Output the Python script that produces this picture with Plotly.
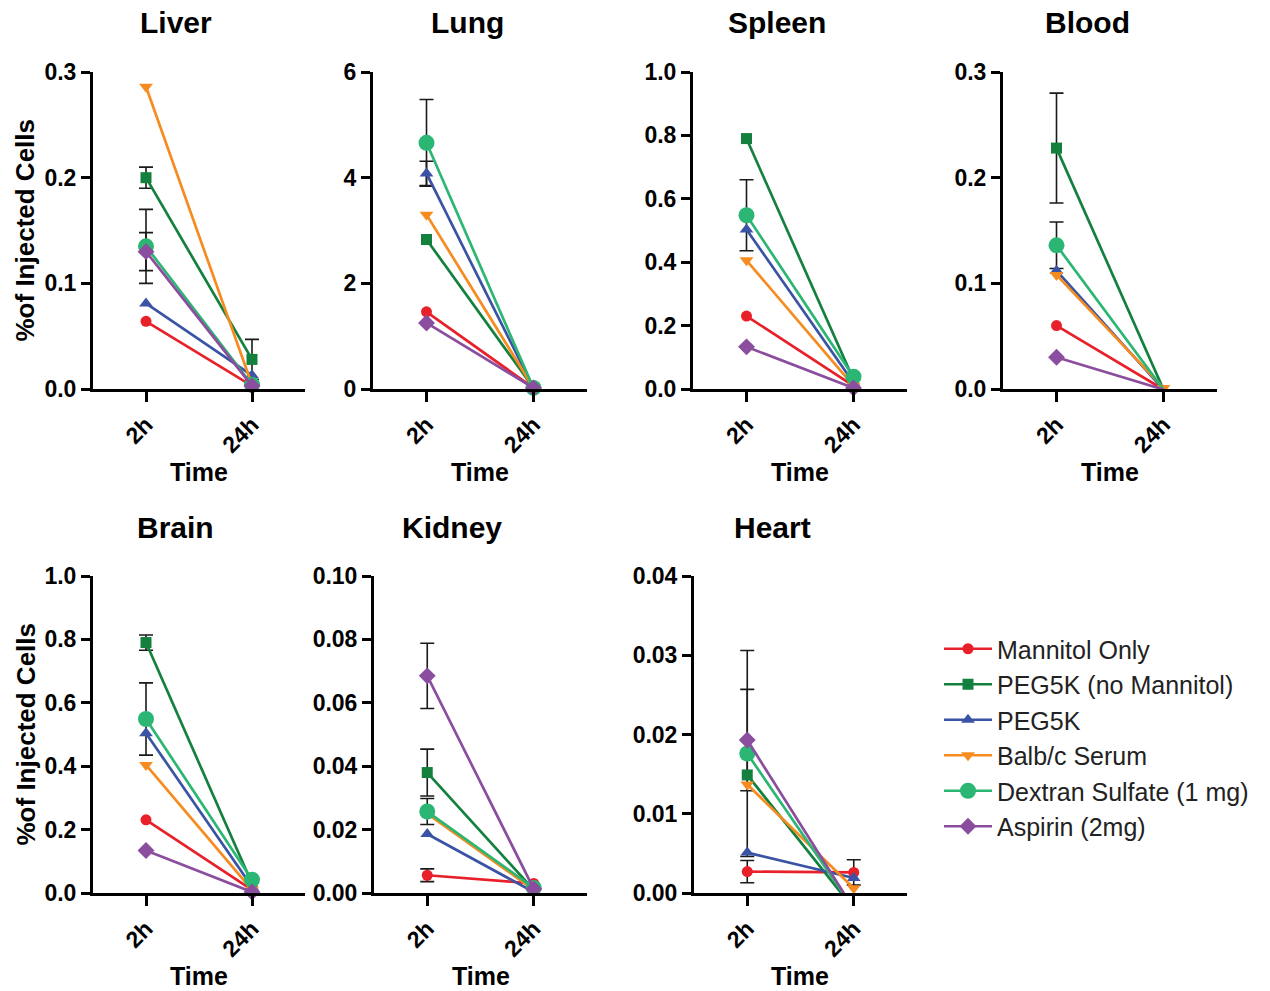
import plotly.graph_objects as go

# ---------------- data ----------------
series_names = ["Mannitol Only", "PEG5K (no Mannitol)", "PEG5K", "Balb/c Serum",
                "Dextran Sulfate (1 mg)", "Aspirin (2mg)"]
time_labels = ["2h", "24h"]
organs = ["Liver", "Lung", "Spleen", "Blood", "Brain", "Kidney", "Heart"]

# values per series (order as series_names)
liver_2h = [0.064, 0.200, 0.081, 0.286, 0.135, 0.130]
liver_24h = [0.003, 0.028, 0.013, 0.004, 0.004, 0.003]
liver_err_2h = [None, 0.010, None, None, 0.035, 0.018]
liver_err_24h = [None, 0.019, None, None, None, None]

lung_2h = [1.46, 2.83, 4.08, 3.30, 4.66, 1.25]
lung_24h = [0.02, 0.02, 0.02, 0.02, 0.02, 0.02]
lung_err_2h = [None, None, 0.23, None, 0.82, None]
lung_err_24h = [None, None, None, None, None, None]

spleen_2h = [0.230, 0.790, 0.503, 0.406, 0.548, 0.133]
spleen_24h = [0.010, 0.030, 0.020, 0.010, 0.039, 0.003]
spleen_err_2h = [None, None, None, None, 0.112, None]
spleen_err_24h = [None, None, None, None, None, None]

blood_2h = [0.060, 0.228, 0.112, 0.108, 0.136, 0.030]
blood_24h = [-0.0005, -0.0005, -0.0005, 0.001, -0.0005, -0.0005]
blood_err_2h = [None, 0.052, None, None, 0.022, None]
blood_err_24h = [None, None, None, None, None, None]

brain_2h = [0.231, 0.790, 0.504, 0.404, 0.549, 0.134]
brain_24h = [0.010, 0.030, 0.020, 0.010, 0.042, 0.003]
brain_err_2h = [None, 0.024, None, None, 0.114, None]
brain_err_24h = [None, None, None, None, None, None]

kidney_2h = [0.0056, 0.038, 0.0186, 0.025, 0.0257, 0.0685]
kidney_24h = [0.003, 0.001, 0.0003, 0.001, 0.0016, 0.0013]
kidney_err_2h = [0.002, 0.0074, None, None, 0.0041, 0.0103]
kidney_err_24h = [None, None, None, None, None, None]

heart_2h = [0.0027, 0.0149, 0.0051, 0.0137, 0.0176, 0.0193]
heart_24h = [0.0026, -0.002, 0.0019, 0.0006, -0.002, -0.002]
heart_err_2h = [0.0014, None, None, None, 0.013, 0.0064]
heart_err_24h = [0.0016, None, None, None, None, None]

y_max = [0.3, 6, 1.0, 0.3, 1.0, 0.10, 0.04]
y_dtick = [0.1, 2, 0.2, 0.1, 0.2, 0.02, 0.01]
y_format = [".1f", "d", ".1f", ".1f", ".1f", ".2f", ".2f"]

data_2h = [liver_2h, lung_2h, spleen_2h, blood_2h, brain_2h, kidney_2h, heart_2h]
data_24h = [liver_24h, lung_24h, spleen_24h, blood_24h, brain_24h, kidney_24h, heart_24h]
err_2h = [liver_err_2h, lung_err_2h, spleen_err_2h, blood_err_2h, brain_err_2h,
          kidney_err_2h, heart_err_2h]
err_24h = [liver_err_24h, lung_err_24h, spleen_err_24h, blood_err_24h, brain_err_24h,
           kidney_err_24h, heart_err_24h]

# ---------------- styles / layout ----------------
W, H = 1270, 991
FONT = "Liberation Sans, Arial, sans-serif"
colors = ["#E8202A", "#14803E", "#3A53A4", "#F68B1F", "#2CB673", "#8B4E9F"]
symbols = ["circle", "square", "triangle-up", "triangle-down", "circle", "diamond"]
sizes = [11, 11, 12, 12, 16, 13]

# pixel boxes of each plot area: (x0, x1, top, bottom)
boxes = [(93, 305, 72, 389), (373, 587, 72, 389), (693, 907, 72, 389), (1003, 1217, 72, 389),
         (93, 305, 576, 893), (374, 587, 576, 893), (694, 907, 576, 893)]
title_pos = [(176, 23), (467, 23), (777, 23), (1087, 23), (175, 527), (452, 527), (772, 527)]

fig = go.Figure()

# error bars first (drawn beneath markers)
for k in range(7):
    ax = "" if k == 0 else str(k + 1)
    for j in range(6):
        xs, ys, es = [], [], []
        for ti, (vals, errs) in enumerate([(data_2h[k], err_2h[k]), (data_24h[k], err_24h[k])]):
            if errs[j] is not None:
                xs.append(time_labels[ti]); ys.append(vals[j]); es.append(errs[j])
        if xs:
            fig.add_trace(go.Scatter(
                x=xs, y=ys, mode="markers", xaxis="x" + ax, yaxis="y" + ax,
                marker=dict(size=2, opacity=0), showlegend=False, hoverinfo="skip",
                cliponaxis=False,
                error_y=dict(type="data", array=es, symmetric=True, color="#1a1a1a",
                             thickness=1.6, width=7)))

for k in range(7):
    ax = "" if k == 0 else str(k + 1)
    for j in range(6):
        fig.add_trace(go.Scatter(
            x=time_labels, y=[data_2h[k][j], data_24h[k][j]],
            mode="lines+markers", name=series_names[j], legendgroup=series_names[j],
            showlegend=(k == 0), xaxis="x" + ax, yaxis="y" + ax, cliponaxis=False,
            line=dict(color=colors[j], width=2.7),
            marker=dict(color=colors[j], symbol=symbols[j], size=sizes[j], line=dict(width=0))))

layout = dict(
    template="none",
    width=W, height=H, margin=dict(l=0, r=0, t=0, b=0, autoexpand=False),
    paper_bgcolor="white", plot_bgcolor="white",
    font=dict(family=FONT, color="black"),
    legend=dict(x=939 / W, y=1 - 626 / H, xanchor="left", yanchor="top",
                traceorder="grouped", tracegroupgap=0, itemwidth=48,
                font=dict(family=FONT, size=25, color="#222"), bgcolor="rgba(0,0,0,0)"),
    annotations=[],
)

tickfont = dict(family=FONT, size=23, color="black", weight="bold")
for k in range(7):
    ax = "" if k == 0 else str(k + 1)
    x0, x1, top, bot = boxes[k]
    layout["xaxis" + ax] = dict(
        domain=[x0 / W, x1 / W], anchor="y" + ax, type="category", automargin=False,
        categoryorder="array", categoryarray=time_labels, range=[-0.5, 1.5],
        showline=True, linecolor="black", linewidth=3, ticks="outside", ticklen=10,
        tickwidth=3, tickcolor="black", tickangle=-45, tickfont=tickfont,
        showgrid=False, zeroline=False)
    layout["yaxis" + ax] = dict(
        domain=[1 - bot / H, 1 - top / H], anchor="x" + ax, range=[0, y_max[k]],
        automargin=False,
        tickmode="linear", tick0=0, dtick=y_dtick[k], tickformat=y_format[k],
        showline=True, linecolor="black", linewidth=3, ticks="outside", ticklen=9,
        tickwidth=3, tickcolor="black", tickfont=tickfont,
        showgrid=False, zeroline=False)
    tx, ty = title_pos[k]
    layout["annotations"].append(dict(
        text=organs[k], x=tx / W, y=1 - ty / H, xref="paper", yref="paper",
        xanchor="center", yanchor="middle", showarrow=False,
        font=dict(family=FONT, size=30, color="black", weight="bold")))
    layout["annotations"].append(dict(
        text="Time", x=(x0 + x1) / 2 / W, y=1 - (bot + 83) / H, xref="paper", yref="paper",
        xanchor="center", yanchor="middle", showarrow=False,
        font=dict(family=FONT, size=25, color="black", weight="bold")))
    if k in (0, 4):
        layout["annotations"].append(dict(
            text="%of Injected Cells", x=25 / W, y=1 - (top + bot) / 2 / H,
            xref="paper", yref="paper", xanchor="center", yanchor="middle",
            textangle=-90, showarrow=False,
            font=dict(family=FONT, size=26, color="black", weight="bold")))

fig.update_layout(**layout)
fig.write_html("out.html")
